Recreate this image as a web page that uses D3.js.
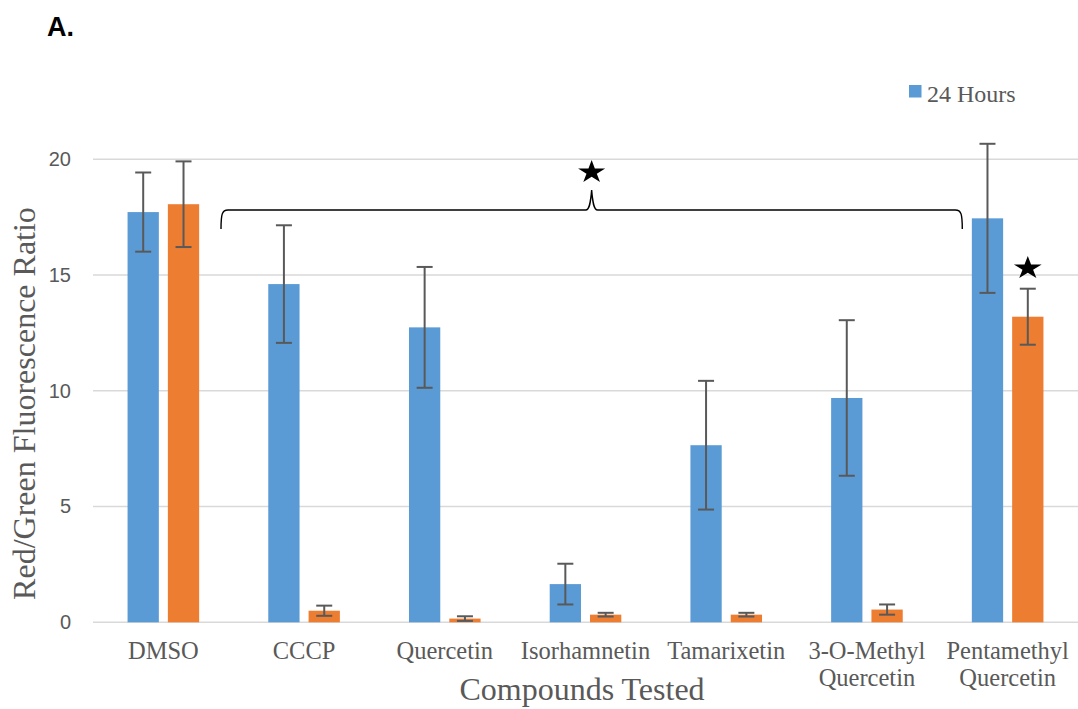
<!DOCTYPE html>
<html>
<head>
<meta charset="utf-8">
<script src="https://cdn.jsdelivr.net/npm/d3@7"></script>
<style>
  html, body { margin: 0; padding: 0; background: #fff; }
  svg { display: block; }
</style>
</head>
<body>
<svg id="chart" width="1078" height="709"></svg>
<script>
// Compounds on the x axis (label lines for wrapped names)
const categories = ["DMSO", "CCCP", "Quercetin", "Isorhamnetin", "Tamarixetin", "3-O-Methyl Quercetin", "Pentamethyl Quercetin"];
const categoryLines = [["DMSO"], ["CCCP"], ["Quercetin"], ["Isorhamnetin"], ["Tamarixetin"], ["3-O-Methyl", "Quercetin"], ["Pentamethyl", "Quercetin"]];

// Blue series: 24 Hours (mean and error)
const hours24 = [17.72, 14.61, 12.74, 1.65, 7.65, 9.69, 17.45];
const hours24Err = [1.71, 2.54, 2.61, 0.88, 2.78, 3.36, 3.22];

// Orange series (mean and error)
const seriesB = [18.06, 0.50, 0.16, 0.33, 0.33, 0.55, 13.20];
const seriesBErr = [1.85, 0.22, 0.10, 0.08, 0.08, 0.22, 1.21];

const yTicks = [0, 5, 10, 15, 20];
const legendLabels = ["24 Hours"];

const blue = "#5B9BD5";
const orange = "#ED7D31";
const grey = "#595959";
const gridColor = "#D9D9D9";

const svg = d3.select("#chart");

const plot = { left: 93, right: 1078, top: 159.3, bottom: 622.3 };

const x = d3.scaleBand().domain(categories).range([plot.left, plot.right]).padding(0);
const groupHalf = 35.8;
const inner = d3.scaleBand().domain(["a", "b"]).range([0, groupHalf * 2]).paddingInner(0.224);
const y = d3.scaleLinear().domain([0, 20]).range([plot.bottom, plot.top]);

// Horizontal gridlines
svg.append("g")
  .selectAll("line")
  .data(yTicks)
  .join("line")
  .attr("x1", plot.left).attr("x2", plot.right)
  .attr("y1", d => y(d)).attr("y2", d => y(d))
  .attr("stroke", gridColor).attr("stroke-width", 1.6);

// Y axis tick labels
const yAxis = d3.axisLeft(y).tickValues(yTicks).tickSize(0).tickPadding(0).tickFormat(d3.format("d"));
const yAxisG = svg.append("g").attr("transform", "translate(71,0)").call(yAxis);
yAxisG.select(".domain").remove();
yAxisG.selectAll("text")
  .attr("fill", grey)
  .style("font-family", "'Liberation Sans', Arial, sans-serif")
  .style("font-size", "20px");

// Bars and error bars
const series = [
  { key: "a", values: hours24, errs: hours24Err, color: blue },
  { key: "b", values: seriesB, errs: seriesBErr, color: orange }
];

const groups = svg.append("g")
  .selectAll("g")
  .data(categories)
  .join("g")
  .attr("transform", d => `translate(${x(d) + x.bandwidth() / 2 - groupHalf},0)`);

series.forEach(s => {
  groups.append("rect")
    .attr("x", inner(s.key))
    .attr("width", inner.bandwidth())
    .attr("y", (d, i) => y(s.values[i]))
    .attr("height", (d, i) => y(0) - y(s.values[i]))
    .attr("fill", s.color);
});

series.forEach(s => {
  const cx = inner(s.key) + inner.bandwidth() / 2;
  const eb = groups.append("g")
    .attr("stroke", grey)
    .attr("stroke-width", 2);
  eb.append("line")
    .attr("x1", cx).attr("x2", cx)
    .attr("y1", (d, i) => y(s.values[i] + s.errs[i]))
    .attr("y2", (d, i) => y(s.values[i] - s.errs[i]));
  [1, -1].forEach(sign => {
    eb.append("line")
      .attr("x1", cx - 8).attr("x2", cx + 8)
      .attr("y1", (d, i) => y(s.values[i] + sign * s.errs[i]))
      .attr("y2", (d, i) => y(s.values[i] + sign * s.errs[i]));
  });
});

// Category labels
const labelG = svg.append("g")
  .style("font-family", "'Liberation Serif', 'Times New Roman', serif")
  .style("font-size", "24.5px")
  .attr("fill", grey)
  .attr("text-anchor", "middle");
categories.forEach((c, i) => {
  const t = labelG.append("text")
    .attr("x", x(c) + x.bandwidth() / 2)
    .attr("y", 659);
  categoryLines[i].forEach((line, j) => {
    t.append("tspan")
      .attr("x", x(c) + x.bandwidth() / 2)
      .attr("dy", j === 0 ? 0 : 27)
      .text(line);
  });
});

// Axis titles
svg.append("text")
  .attr("x", 582).attr("y", 700)
  .attr("text-anchor", "middle")
  .attr("fill", grey)
  .style("font-family", "'Liberation Serif', 'Times New Roman', serif")
  .style("font-size", "32px")
  .text("Compounds Tested");

svg.append("text")
  .attr("transform", "translate(35,403.5) rotate(-90)")
  .attr("text-anchor", "middle")
  .attr("fill", grey)
  .style("font-family", "'Liberation Serif', 'Times New Roman', serif")
  .style("font-size", "32px")
  .text("Red/Green Fluorescence Ratio");

// Panel letter
svg.append("text")
  .attr("x", 47).attr("y", 36)
  .attr("fill", "#000")
  .style("font-family", "'Liberation Sans', Arial, sans-serif")
  .style("font-weight", "bold")
  .style("font-size", "27px")
  .text("A.");

// Legend
const legend = svg.append("g").attr("transform", "translate(909,85)");
legendLabels.forEach((lbl, i) => {
  legend.append("rect")
    .attr("x", 0).attr("y", 0)
    .attr("width", 12.5).attr("height", 12.5)
    .attr("fill", [blue, orange][i]);
  legend.append("text")
    .attr("x", 18).attr("y", 16.8)
    .attr("fill", grey)
    .style("font-family", "'Liberation Serif', 'Times New Roman', serif")
    .style("font-size", "24px")
    .text(lbl);
});

// Significance bracket spanning the treated compounds
const bx0 = x("CCCP") - 12.7;
const bx1 = x("Pentamethyl Quercetin") + 25;
const bmid = (bx0 + bx1) / 2;
const bTop = 210, bEnd = 229, bPeak = 190;
const bracket = d3.path();
bracket.moveTo(bx0, bEnd);
bracket.bezierCurveTo(bx0, bTop + 4, bx0 + 1, bTop, bx0 + 7, bTop);
bracket.lineTo(bmid - 6, bTop);
bracket.bezierCurveTo(bmid - 2, bTop, bmid - 1, bTop - 8, bmid, bPeak);
bracket.bezierCurveTo(bmid + 1, bTop - 8, bmid + 2, bTop, bmid + 6, bTop);
bracket.lineTo(bx1 - 7, bTop);
bracket.bezierCurveTo(bx1 - 1, bTop, bx1, bTop + 4, bx1, bEnd);
svg.append("path")
  .attr("d", bracket.toString())
  .attr("fill", "none")
  .attr("stroke", "#000")
  .attr("stroke-width", 1.4);

// Significance stars
const star = d3.symbol().type(d3.symbolStar).size(166);
svg.append("path")
  .attr("d", star())
  .attr("transform", `translate(${bmid},172.2) scale(1.17,1)`)
  .attr("fill", "#000");

const pq = categories.length - 1;
const starX = x(categories[pq]) + x.bandwidth() / 2 - groupHalf + inner("b") + inner.bandwidth() / 2;
svg.append("path")
  .attr("d", star())
  .attr("transform", `translate(${starX},${y(seriesB[pq] + seriesBErr[pq]) - 20.5}) scale(1.2,1)`)
  .attr("fill", "#000");
</script>
</body>
</html>
